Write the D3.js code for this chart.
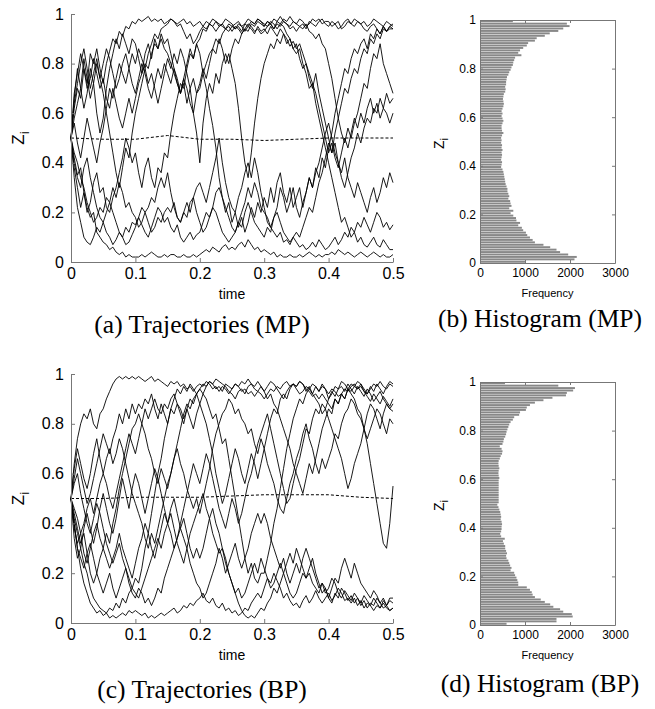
<!DOCTYPE html>
<meta charset="utf-8">
<html lang="en">
  <head>
    <style>
      body { margin: 0; background-color: #fff; }
      svg text { font-family: "Liberation Sans", Arial, sans-serif; fill: #000; }
      .traj { fill: none; stroke: #000; stroke-width: 0.9px; stroke-linejoin: round; }
      .mean { fill: none; stroke: #000; stroke-width: 1px; stroke-dasharray: 3,2; }
      .bar { fill: #888; }
      .axis path, .axis line { stroke: #777; stroke-width: 1px; }
      .caption { font-family: "Liberation Serif", "Times New Roman", serif; font-size: 25.5px; }
    </style>
  </head>
  <body>
    <script src="https://d3js.org/d3.v7.min.js"></script>
    <svg></svg>
    <script>

      // ---- data ----
      // trajectories are sampled every 0.005 time units (101 samples on [0, 0.5])
      var times = d3.range(0, 101).map(function(i) { return i / 200; });
      var meanTimes = [0, 0.05, 0.1, 0.15, 0.2, 0.25, 0.3, 0.35, 0.4, 0.45, 0.5];

      // trajectories, MP
      var mp1 = [0.5,0.42,0.35,0.38,0.28,0.22,0.18,0.2,0.12,0.1, 0.08,0.07,0.05,0.06,0.04,0.03,0.04,0.02,0.03,0.02, 0.02,0.02,0.03,0.02,0.03,0.04,0.03,0.02,0.02,0.03, 0.02,0.03,0.03,0.02,0.02,0.03,0.02,0.02,0.03,0.02, 0.03,0.04,0.05,0.04,0.06,0.05,0.04,0.06,0.07,0.05, 0.06,0.05,0.07,0.08,0.06,0.09,0.07,0.05,0.06,0.04, 0.05,0.04,0.03,0.04,0.02,0.03,0.02,0.02,0.03,0.02, 0.02,0.03,0.02,0.03,0.04,0.03,0.02,0.03,0.02,0.03, 0.03,0.04,0.03,0.05,0.04,0.03,0.04,0.03,0.02,0.03, 0.04,0.03,0.02,0.03,0.04,0.03,0.02,0.03,0.02,0.02, 0.03];
      var mp2 = [0.5,0.62,0.7,0.66,0.78,0.72,0.84,0.8,0.86,0.78, 0.72,0.8,0.85,0.9,0.88,0.93,0.91,0.95,0.94,0.97, 0.96,0.98,0.97,0.98,0.99,0.97,0.98,0.97,0.98,0.96, 0.97,0.98,0.97,0.96,0.97,0.98,0.96,0.97,0.95,0.96, 0.97,0.95,0.94,0.96,0.95,0.93,0.95,0.96,0.94,0.95, 0.93,0.95,0.94,0.92,0.94,0.96,0.95,0.93,0.94,0.92, 0.93,0.95,0.96,0.94,0.97,0.96,0.98,0.97,0.99,0.97, 0.96,0.98,0.97,0.95,0.96,0.98,0.97,0.98,0.96,0.97, 0.97,0.95,0.96,0.97,0.94,0.95,0.97,0.96,0.98,0.97, 0.96,0.97,0.95,0.96,0.98,0.97,0.96,0.95,0.97,0.96, 0.95];
      var mp3 = [0.5,0.66,0.78,0.7,0.82,0.74,0.66,0.72,0.6,0.52, 0.58,0.7,0.78,0.84,0.9,0.86,0.92,0.88,0.84,0.9, 0.88,0.82,0.76,0.84,0.88,0.82,0.9,0.86,0.92,0.88, 0.9,0.84,0.78,0.72,0.68,0.74,0.8,0.86,0.82,0.88, 0.84,0.76,0.7,0.62,0.55,0.46,0.34,0.26,0.2,0.24, 0.16,0.2,0.14,0.18,0.12,0.16,0.22,0.18,0.24,0.2, 0.26,0.22,0.3,0.24,0.32,0.36,0.28,0.24,0.3,0.22, 0.26,0.3,0.22,0.28,0.34,0.3,0.38,0.34,0.42,0.38, 0.46,0.52,0.6,0.66,0.72,0.78,0.76,0.82,0.86,0.84, 0.88,0.9,0.86,0.92,0.9,0.94,0.92,0.95,0.93,0.95, 0.96];
      var mp4 = [0.5,0.38,0.3,0.22,0.28,0.2,0.24,0.32,0.36,0.28, 0.3,0.22,0.2,0.26,0.3,0.36,0.42,0.5,0.46,0.4, 0.44,0.36,0.3,0.38,0.42,0.34,0.3,0.38,0.36,0.44, 0.42,0.52,0.6,0.66,0.72,0.7,0.78,0.84,0.82,0.88, 0.9,0.94,0.93,0.96,0.95,0.97,0.96,0.95,0.94,0.96, 0.95,0.96,0.97,0.95,0.96,0.98,0.97,0.96,0.98,0.97, 0.96,0.95,0.97,0.96,0.94,0.96,0.95,0.92,0.9,0.86, 0.88,0.82,0.78,0.8,0.74,0.7,0.76,0.68,0.62,0.56, 0.5,0.44,0.48,0.4,0.36,0.42,0.34,0.3,0.26,0.32, 0.28,0.24,0.2,0.26,0.3,0.24,0.28,0.34,0.3,0.36, 0.32];
      var mp5 = [0.5,0.44,0.4,0.34,0.3,0.24,0.2,0.16,0.18,0.22, 0.2,0.26,0.24,0.2,0.16,0.12,0.1,0.14,0.12,0.16, 0.15,0.18,0.22,0.2,0.16,0.12,0.14,0.18,0.16,0.2, 0.22,0.2,0.24,0.18,0.16,0.2,0.18,0.24,0.26,0.2, 0.16,0.12,0.14,0.18,0.22,0.28,0.3,0.26,0.22,0.18, 0.14,0.12,0.16,0.14,0.2,0.24,0.2,0.16,0.14,0.12, 0.1,0.14,0.12,0.18,0.2,0.16,0.12,0.1,0.08,0.1, 0.12,0.1,0.14,0.18,0.22,0.2,0.26,0.32,0.36,0.42, 0.48,0.44,0.52,0.58,0.64,0.7,0.68,0.74,0.78,0.76, 0.82,0.86,0.84,0.9,0.88,0.92,0.9,0.94,0.93,0.95, 0.94];
      var mp6 = [0.5,0.68,0.76,0.84,0.78,0.7,0.74,0.82,0.76,0.7, 0.74,0.66,0.62,0.7,0.64,0.58,0.54,0.6,0.66,0.6, 0.66,0.72,0.76,0.8,0.78,0.84,0.88,0.86,0.9,0.86, 0.84,0.8,0.76,0.72,0.68,0.74,0.7,0.64,0.6,0.68, 0.7,0.76,0.8,0.84,0.86,0.9,0.88,0.92,0.94,0.93, 0.95,0.94,0.96,0.95,0.93,0.95,0.94,0.92,0.95,0.93, 0.94,0.92,0.95,0.93,0.91,0.94,0.92,0.88,0.9,0.86, 0.84,0.86,0.8,0.76,0.7,0.72,0.64,0.58,0.52,0.46, 0.4,0.34,0.28,0.22,0.16,0.18,0.14,0.1,0.12,0.08, 0.1,0.07,0.06,0.08,0.1,0.07,0.06,0.09,0.07,0.05, 0.05];
      var mp7 = [0.5,0.34,0.22,0.16,0.1,0.08,0.07,0.1,0.14,0.12, 0.16,0.12,0.1,0.07,0.09,0.12,0.1,0.07,0.08,0.11, 0.14,0.18,0.15,0.12,0.1,0.14,0.18,0.22,0.2,0.16, 0.18,0.14,0.12,0.15,0.1,0.08,0.1,0.12,0.09,0.11, 0.12,0.16,0.2,0.18,0.22,0.2,0.16,0.12,0.1,0.08, 0.1,0.12,0.16,0.2,0.24,0.3,0.26,0.32,0.28,0.22, 0.2,0.18,0.14,0.12,0.1,0.12,0.08,0.09,0.07,0.1, 0.08,0.06,0.07,0.05,0.06,0.08,0.06,0.09,0.07,0.05, 0.06,0.08,0.1,0.07,0.09,0.12,0.1,0.14,0.12,0.16, 0.14,0.18,0.15,0.12,0.16,0.2,0.18,0.14,0.16,0.13, 0.15];
      var mp8 = [0.5,0.58,0.64,0.7,0.62,0.68,0.78,0.72,0.8,0.74, 0.68,0.6,0.52,0.44,0.36,0.3,0.38,0.46,0.42,0.52, 0.6,0.66,0.72,0.78,0.84,0.88,0.92,0.9,0.94,0.95, 0.96,0.98,0.97,0.95,0.96,0.93,0.9,0.92,0.88,0.9, 0.93,0.95,0.97,0.96,0.98,0.97,0.95,0.96,0.98,0.97, 0.96,0.94,0.95,0.93,0.96,0.95,0.97,0.96,0.98,0.97, 0.95,0.97,0.96,0.98,0.97,0.99,0.97,0.96,0.95,0.97, 0.96,0.95,0.94,0.96,0.93,0.92,0.9,0.92,0.88,0.86, 0.8,0.74,0.66,0.58,0.52,0.48,0.54,0.5,0.56,0.6, 0.66,0.72,0.7,0.78,0.84,0.82,0.88,0.8,0.76,0.72, 0.68];
      var mp9 = [0.5,0.4,0.34,0.3,0.38,0.42,0.34,0.28,0.22,0.18, 0.16,0.2,0.24,0.3,0.26,0.32,0.28,0.22,0.24,0.2, 0.18,0.14,0.16,0.2,0.22,0.26,0.24,0.3,0.34,0.3, 0.36,0.28,0.22,0.18,0.16,0.2,0.24,0.2,0.26,0.3, 0.32,0.28,0.24,0.3,0.36,0.42,0.5,0.4,0.32,0.26, 0.22,0.2,0.26,0.3,0.36,0.4,0.34,0.42,0.36,0.28, 0.22,0.16,0.14,0.18,0.22,0.3,0.26,0.2,0.24,0.3, 0.22,0.18,0.24,0.28,0.34,0.3,0.36,0.4,0.46,0.52, 0.56,0.5,0.44,0.4,0.34,0.3,0.36,0.42,0.46,0.52, 0.48,0.54,0.58,0.56,0.62,0.6,0.66,0.62,0.68,0.64, 0.66];
      var mp10 = [0.5,0.64,0.72,0.8,0.86,0.78,0.7,0.76,0.82,0.74, 0.8,0.86,0.82,0.76,0.7,0.74,0.8,0.84,0.78,0.72, 0.68,0.74,0.8,0.76,0.7,0.66,0.72,0.78,0.74,0.8, 0.76,0.72,0.78,0.74,0.68,0.72,0.64,0.7,0.6,0.52, 0.4,0.56,0.66,0.72,0.68,0.76,0.72,0.8,0.84,0.8, 0.86,0.9,0.88,0.92,0.94,0.93,0.96,0.95,0.97,0.96, 0.95,0.97,0.96,0.94,0.96,0.95,0.97,0.96,0.94,0.95, 0.93,0.95,0.96,0.94,0.97,0.96,0.95,0.97,0.98,0.96, 0.95,0.97,0.96,0.94,0.95,0.97,0.98,0.96,0.95,0.97, 0.96,0.94,0.93,0.95,0.96,0.94,0.92,0.95,0.93,0.94, 0.94];
      var mp11 = [0.5,0.56,0.48,0.42,0.5,0.58,0.52,0.46,0.4,0.48, 0.54,0.62,0.7,0.66,0.74,0.8,0.76,0.72,0.78,0.84, 0.8,0.86,0.82,0.78,0.72,0.76,0.7,0.64,0.7,0.76, 0.82,0.78,0.84,0.8,0.86,0.82,0.76,0.7,0.74,0.68, 0.72,0.78,0.74,0.8,0.86,0.84,0.9,0.86,0.8,0.84, 0.78,0.72,0.62,0.5,0.4,0.34,0.44,0.56,0.66,0.74, 0.8,0.84,0.88,0.86,0.9,0.88,0.92,0.9,0.87,0.89, 0.86,0.88,0.84,0.8,0.76,0.72,0.68,0.62,0.56,0.5, 0.44,0.48,0.42,0.38,0.44,0.5,0.46,0.52,0.58,0.54, 0.6,0.56,0.62,0.66,0.6,0.64,0.58,0.62,0.6,0.56, 0.6];
      var mpMean = [0.5,0.495,0.495,0.51,0.495,0.495,0.49,0.495,0.5,0.5,0.5];

      // trajectories, BP
      var bp1 = [0.5,0.64,0.74,0.8,0.84,0.82,0.86,0.8,0.78,0.84, 0.86,0.9,0.93,0.96,0.98,0.99,0.98,0.99,0.98,0.99, 0.98,0.99,0.98,0.97,0.98,0.99,0.97,0.98,0.97,0.96, 0.95,0.97,0.96,0.97,0.95,0.96,0.94,0.95,0.93,0.95, 0.96,0.95,0.97,0.96,0.94,0.95,0.93,0.95,0.94,0.92, 0.94,0.96,0.95,0.93,0.94,0.92,0.93,0.91,0.93,0.92, 0.9,0.92,0.94,0.93,0.95,0.94,0.96,0.97,0.95,0.96, 0.94,0.92,0.93,0.95,0.94,0.96,0.95,0.93,0.95,0.94, 0.92,0.94,0.93,0.91,0.92,0.94,0.93,0.95,0.96,0.94, 0.95,0.93,0.92,0.94,0.96,0.95,0.97,0.95,0.94,0.96, 0.95];
      var bp2 = [0.5,0.4,0.3,0.22,0.16,0.12,0.08,0.06,0.04,0.05, 0.03,0.04,0.02,0.03,0.02,0.03,0.04,0.03,0.05,0.04, 0.05,0.04,0.03,0.04,0.02,0.03,0.02,0.03,0.04,0.03, 0.04,0.05,0.06,0.04,0.05,0.07,0.06,0.08,0.07,0.09, 0.1,0.12,0.09,0.08,0.1,0.07,0.06,0.08,0.05,0.06, 0.04,0.05,0.03,0.04,0.06,0.05,0.08,0.1,0.12,0.1, 0.14,0.18,0.16,0.2,0.17,0.14,0.1,0.12,0.09,0.07, 0.08,0.06,0.09,0.11,0.08,0.1,0.13,0.1,0.08,0.1, 0.12,0.09,0.11,0.14,0.12,0.09,0.1,0.08,0.1,0.07, 0.09,0.06,0.08,0.07,0.05,0.07,0.06,0.08,0.06,0.05, 0.06];
      var bp3 = [0.5,0.42,0.36,0.3,0.24,0.2,0.14,0.1,0.08,0.06, 0.05,0.04,0.06,0.05,0.08,0.06,0.1,0.08,0.12,0.14, 0.18,0.16,0.22,0.3,0.36,0.44,0.52,0.6,0.66,0.74, 0.8,0.86,0.84,0.88,0.86,0.82,0.86,0.9,0.88,0.92, 0.94,0.96,0.95,0.97,0.96,0.98,0.97,0.96,0.95,0.93, 0.92,0.9,0.93,0.94,0.92,0.95,0.96,0.94,0.93,0.95, 0.93,0.95,0.97,0.96,0.94,0.92,0.9,0.93,0.95,0.96, 0.95,0.97,0.96,0.94,0.93,0.91,0.92,0.9,0.92,0.9, 0.88,0.86,0.9,0.88,0.92,0.9,0.94,0.93,0.95,0.94, 0.96,0.93,0.91,0.89,0.92,0.9,0.88,0.91,0.89,0.87, 0.9];
      var bp4 = [0.5,0.44,0.38,0.32,0.36,0.28,0.2,0.16,0.2,0.26, 0.3,0.36,0.32,0.4,0.46,0.54,0.6,0.66,0.72,0.78, 0.8,0.84,0.8,0.86,0.82,0.86,0.9,0.86,0.84,0.88, 0.86,0.9,0.92,0.88,0.84,0.8,0.86,0.82,0.78,0.84, 0.88,0.92,0.9,0.86,0.82,0.84,0.78,0.72,0.74,0.66, 0.58,0.5,0.42,0.34,0.26,0.2,0.24,0.18,0.16,0.2, 0.2,0.26,0.32,0.4,0.46,0.54,0.62,0.7,0.76,0.82, 0.86,0.9,0.88,0.92,0.94,0.92,0.95,0.93,0.96,0.94, 0.9,0.93,0.91,0.94,0.95,0.93,0.96,0.94,0.92,0.95, 0.93,0.91,0.94,0.92,0.89,0.91,0.93,0.9,0.88,0.86, 0.88];
      var bp5 = [0.5,0.56,0.6,0.52,0.46,0.4,0.36,0.42,0.48,0.44, 0.38,0.32,0.28,0.24,0.28,0.32,0.26,0.22,0.18,0.14, 0.12,0.1,0.14,0.18,0.22,0.26,0.3,0.34,0.3,0.36, 0.4,0.44,0.38,0.32,0.28,0.24,0.3,0.36,0.4,0.44, 0.48,0.52,0.46,0.42,0.36,0.32,0.28,0.3,0.24,0.2, 0.16,0.12,0.14,0.1,0.12,0.16,0.2,0.24,0.2,0.26, 0.22,0.18,0.14,0.16,0.2,0.24,0.2,0.16,0.12,0.1, 0.12,0.16,0.2,0.18,0.22,0.26,0.2,0.16,0.12,0.14, 0.1,0.08,0.12,0.1,0.14,0.12,0.09,0.11,0.08,0.1, 0.07,0.09,0.06,0.08,0.07,0.1,0.08,0.06,0.07,0.09, 0.08];
      var bp6 = [0.5,0.62,0.7,0.64,0.58,0.54,0.6,0.68,0.74,0.66, 0.6,0.56,0.5,0.46,0.52,0.58,0.64,0.7,0.76,0.72, 0.68,0.74,0.8,0.76,0.7,0.66,0.6,0.56,0.62,0.58, 0.54,0.6,0.66,0.7,0.64,0.6,0.54,0.5,0.46,0.5, 0.44,0.5,0.56,0.62,0.7,0.76,0.8,0.84,0.86,0.9, 0.88,0.84,0.86,0.82,0.8,0.76,0.78,0.72,0.68,0.74, 0.7,0.64,0.6,0.56,0.5,0.46,0.44,0.5,0.56,0.6, 0.66,0.7,0.76,0.8,0.74,0.7,0.64,0.6,0.66,0.62, 0.66,0.7,0.76,0.74,0.8,0.84,0.86,0.9,0.88,0.84, 0.82,0.78,0.74,0.78,0.82,0.86,0.84,0.8,0.76,0.82, 0.8];
      var bp7 = [0.5,0.4,0.3,0.26,0.22,0.28,0.32,0.26,0.2,0.16, 0.12,0.16,0.2,0.14,0.1,0.14,0.18,0.22,0.16,0.12, 0.1,0.14,0.12,0.08,0.1,0.07,0.1,0.14,0.12,0.18, 0.22,0.26,0.3,0.34,0.38,0.42,0.36,0.3,0.26,0.3, 0.26,0.3,0.36,0.42,0.46,0.4,0.36,0.3,0.26,0.2, 0.16,0.12,0.08,0.05,0.03,0.02,0.03,0.02,0.04,0.06, 0.05,0.08,0.1,0.14,0.12,0.16,0.2,0.24,0.28,0.24, 0.3,0.26,0.22,0.18,0.2,0.16,0.14,0.12,0.16,0.14, 0.1,0.14,0.18,0.16,0.22,0.26,0.22,0.18,0.24,0.2, 0.16,0.14,0.12,0.1,0.13,0.11,0.08,0.1,0.07,0.05, 0.06];
      var bp8 = [0.5,0.46,0.42,0.36,0.4,0.46,0.5,0.44,0.5,0.56, 0.6,0.66,0.7,0.64,0.68,0.74,0.7,0.64,0.58,0.52, 0.48,0.44,0.4,0.34,0.3,0.36,0.32,0.38,0.44,0.5, 0.56,0.6,0.66,0.72,0.78,0.84,0.88,0.86,0.9,0.92, 0.94,0.92,0.95,0.97,0.96,0.94,0.95,0.93,0.96,0.95, 0.94,0.96,0.95,0.97,0.96,0.98,0.96,0.95,0.97,0.95, 0.93,0.9,0.92,0.88,0.86,0.82,0.78,0.74,0.7,0.64, 0.6,0.56,0.52,0.58,0.64,0.6,0.66,0.72,0.78,0.82, 0.86,0.84,0.9,0.88,0.92,0.9,0.94,0.92,0.9,0.86, 0.84,0.78,0.72,0.64,0.56,0.48,0.4,0.32,0.3,0.4, 0.55];
      var bp9 = [0.5,0.38,0.32,0.36,0.28,0.24,0.3,0.36,0.4,0.34, 0.3,0.26,0.22,0.26,0.3,0.36,0.3,0.26,0.22,0.18, 0.24,0.3,0.34,0.4,0.36,0.3,0.26,0.32,0.38,0.44, 0.4,0.46,0.5,0.44,0.38,0.34,0.3,0.24,0.2,0.16, 0.14,0.1,0.12,0.16,0.2,0.24,0.3,0.26,0.2,0.24, 0.28,0.32,0.26,0.22,0.26,0.3,0.36,0.4,0.44,0.4, 0.44,0.4,0.34,0.3,0.26,0.22,0.26,0.2,0.16,0.2, 0.24,0.2,0.26,0.3,0.26,0.22,0.18,0.14,0.16,0.12, 0.14,0.18,0.16,0.12,0.1,0.13,0.11,0.09,0.12,0.1, 0.08,0.11,0.09,0.07,0.1,0.08,0.06,0.09,0.07,0.1, 0.1];
      var bp10 = [0.5,0.58,0.66,0.6,0.54,0.48,0.52,0.58,0.64,0.7, 0.76,0.72,0.68,0.74,0.78,0.84,0.8,0.86,0.82,0.88, 0.84,0.88,0.86,0.9,0.88,0.92,0.86,0.82,0.88,0.84, 0.8,0.86,0.9,0.94,0.92,0.95,0.93,0.96,0.94,0.92, 0.88,0.84,0.8,0.74,0.68,0.6,0.54,0.48,0.52,0.58, 0.64,0.7,0.66,0.6,0.56,0.62,0.68,0.64,0.58,0.64, 0.7,0.76,0.82,0.86,0.84,0.9,0.92,0.9,0.94,0.96, 0.95,0.97,0.96,0.93,0.95,0.92,0.9,0.88,0.84,0.86, 0.9,0.92,0.95,0.94,0.97,0.96,0.94,0.96,0.95,0.97, 0.96,0.94,0.92,0.95,0.93,0.96,0.94,0.92,0.95,0.97, 0.96];
      var bp11 = [0.5,0.34,0.26,0.3,0.38,0.44,0.38,0.32,0.38,0.46, 0.52,0.46,0.4,0.36,0.42,0.5,0.58,0.52,0.46,0.54, 0.6,0.56,0.5,0.44,0.5,0.56,0.62,0.58,0.52,0.46, 0.4,0.36,0.3,0.34,0.4,0.46,0.52,0.58,0.64,0.6, 0.56,0.62,0.68,0.64,0.58,0.52,0.46,0.42,0.38,0.44, 0.5,0.46,0.4,0.44,0.5,0.56,0.6,0.66,0.72,0.76, 0.8,0.84,0.78,0.72,0.66,0.6,0.54,0.48,0.5,0.56, 0.62,0.66,0.72,0.78,0.76,0.82,0.86,0.84,0.88,0.86, 0.82,0.78,0.74,0.7,0.66,0.6,0.54,0.58,0.64,0.68, 0.72,0.78,0.84,0.88,0.86,0.82,0.78,0.84,0.88,0.86, 0.85];
      var bpMean = [0.5,0.5,0.505,0.505,0.505,0.51,0.515,0.515,0.515,0.505,0.5];

      // histograms: 100 bins of width 0.01, from z = 0 upwards
      var binLo = d3.range(0, 100).map(function(i) { return i / 100; });
      var mpFreq = [1000,2100,2150,1960,1780,1700,1560,1410,1220,1170,
                    1110,1050,1020,960,930,850,890,810,800,740,
                    680,740,650,700,680,670,630,650,630,610,
                    610,590,570,560,550,540,530,520,500,470,
                    480,490,470,480,490,480,500,480,490,470,
                    480,470,490,520,490,480,480,500,520,500,
                    480,500,480,500,520,530,520,510,520,530,
                    560,570,560,580,580,590,600,630,650,680,
                    700,730,740,760,780,920,850,890,960,1040,
                    1070,1220,1260,1440,1550,1740,1850,1990,1930,730];
      var bpFreq = [590,1700,1700,2060,2040,1850,1780,1630,1560,1440,
                    1350,1220,1170,1150,1110,1040,850,850,830,810,
                    780,760,680,700,670,650,630,590,580,600,
                    580,560,560,530,510,550,470,450,470,480,
                    480,490,480,460,470,460,450,430,410,385,
                    415,415,415,415,415,415,415,415,415,415,
                    430,415,410,415,430,415,410,415,440,460,
                    490,500,480,440,500,520,530,560,580,590,
                    610,630,650,680,730,760,870,890,1020,1040,
                    1110,1220,1410,1610,1910,1930,2070,2110,1740,555];

      var zTicks = [0, 0.2, 0.4, 0.6, 0.8, 1];
      var timeTicks = [0, 0.1, 0.2, 0.3, 0.4, 0.5];
      var freqTicks = [0, 1000, 2000, 3000];

      // ---- drawing ----
      var svg = d3.select("svg")
        .attr("width", 655)
        .attr("height", 709);

      var fmt = d3.format("~g");

      function zLabel(x, y, size) {
        var t = svg.append("text")
          .attr("transform", "translate(" + x + "," + y + ") rotate(-90)")
          .attr("text-anchor", "middle")
          .style("font-size", size + "px");
        t.append("tspan").text("Z");
        t.append("tspan").attr("dy", size * 0.3).style("font-size", (size * 0.8) + "px").text("i");
      }

      function caption(c) {
        svg.append("text")
          .attr("class", "caption")
          .attr("x", c.x)
          .attr("y", c.y)
          .attr("text-anchor", "middle")
          .text(c.text);
      }

      function drawTraj(lines, mean, box, cap) {
        var x = d3.scaleLinear().domain([0, 0.5]).range([box.left, box.right]);
        var y = d3.scaleLinear().domain([0, 1]).range([box.bottom, box.top]);
        var g = svg.append("g");

        var line = d3.line()
          .x(function(d, i) { return x(times[i]); })
          .y(function(d) { return y(d); });

        g.selectAll(".traj")
          .data(lines)
          .enter().append("path")
          .attr("class", "traj")
          .attr("d", line);

        g.append("path")
          .attr("class", "mean")
          .attr("d", d3.line()
            .x(function(d, i) { return x(meanTimes[i]); })
            .y(function(d) { return y(d); })(mean));

        g.append("g")
          .attr("class", "axis")
          .attr("transform", "translate(" + box.left + ",0)")
          .call(d3.axisLeft(y).tickValues(zTicks).tickFormat(fmt).tickSizeInner(-4).tickSizeOuter(0).tickPadding(7))
          .selectAll("text").style("font-size", "16px");

        g.append("g")
          .attr("class", "axis")
          .attr("transform", "translate(0," + box.bottom + ")")
          .call(d3.axisBottom(x).tickValues(timeTicks).tickFormat(fmt).tickSizeInner(-4).tickSizeOuter(0).tickPadding(6))
          .selectAll("text").style("font-size", "16px");

        svg.selectAll(".axis").attr("font-family", null).attr("font-size", null);

        svg.append("text")
          .attr("x", (box.left + box.right) / 2)
          .attr("y", box.bottom + 37)
          .attr("text-anchor", "middle")
          .style("font-size", "14px")
          .text("time");

        zLabel(box.left - 47, (box.top + box.bottom) / 2, 17);
        caption(cap);
      }

      function drawHist(freq, box, cap) {
        var x = d3.scaleLinear().domain([0, 3000]).range([box.left, box.right]);
        var y = d3.scaleLinear().domain([0, 1]).range([box.bottom, box.top]);
        var g = svg.append("g");
        var binH = y(0) - y(0.01);

        g.selectAll(".bar")
          .data(freq)
          .enter().append("rect")
          .attr("class", "bar")
          .attr("x", x(0))
          .attr("y", function(d, i) { return y(binLo[i] + 0.01) + binH * 0.1; })
          .attr("width", function(d) { return x(d) - x(0); })
          .attr("height", binH * 0.8);

        g.append("g")
          .attr("class", "axis")
          .attr("transform", "translate(" + box.left + ",0)")
          .call(d3.axisLeft(y).tickValues(zTicks).tickFormat(fmt).tickSizeInner(-3).tickSizeOuter(0).tickPadding(4))
          .selectAll("text").style("font-size", "12px");

        g.append("g")
          .attr("class", "axis")
          .attr("transform", "translate(" + box.right + ",0)")
          .call(d3.axisRight(y).tickValues(zTicks).tickFormat("").tickSizeInner(-3).tickSizeOuter(0));

        g.append("g")
          .attr("class", "axis")
          .attr("transform", "translate(0," + box.bottom + ")")
          .call(d3.axisBottom(x).tickValues(freqTicks).tickFormat(d3.format("d")).tickSizeInner(-3).tickSizeOuter(0).tickPadding(5))
          .selectAll("text").style("font-size", "12px");

        g.append("g")
          .attr("class", "axis")
          .attr("transform", "translate(0," + box.top + ")")
          .call(d3.axisTop(x).tickValues(freqTicks).tickFormat("").tickSizeInner(-3).tickSizeOuter(0));

        svg.selectAll(".axis").attr("font-family", null).attr("font-size", null);

        svg.append("text")
          .attr("x", (box.left + box.right) / 2)
          .attr("y", box.bottom + 34)
          .attr("text-anchor", "middle")
          .style("font-size", "11px")
          .text("Frequency");

        zLabel(box.left - 36, (box.top + box.bottom) / 2 + 2, 14);
        caption(cap);
      }

      drawTraj([mp1, mp2, mp3, mp4, mp5, mp6, mp7, mp8, mp9, mp10, mp11], mpMean,
        {left: 71, right: 393, top: 14, bottom: 262},
        {x: 202, y: 333, text: "(a) Trajectories (MP)"});

      drawHist(mpFreq,
        {left: 480, right: 615, top: 20, bottom: 263},
        {x: 540, y: 327, text: "(b) Histogram (MP)"});

      drawTraj([bp1, bp2, bp3, bp4, bp5, bp6, bp7, bp8, bp9, bp10, bp11], bpMean,
        {left: 71, right: 393, top: 374, bottom: 623},
        {x: 202, y: 698, text: "(c) Trajectories (BP)"});

      drawHist(bpFreq,
        {left: 480, right: 615, top: 382, bottom: 625},
        {x: 540, y: 692, text: "(d) Histogram (BP)"});

    </script>
  </body>
</html>
